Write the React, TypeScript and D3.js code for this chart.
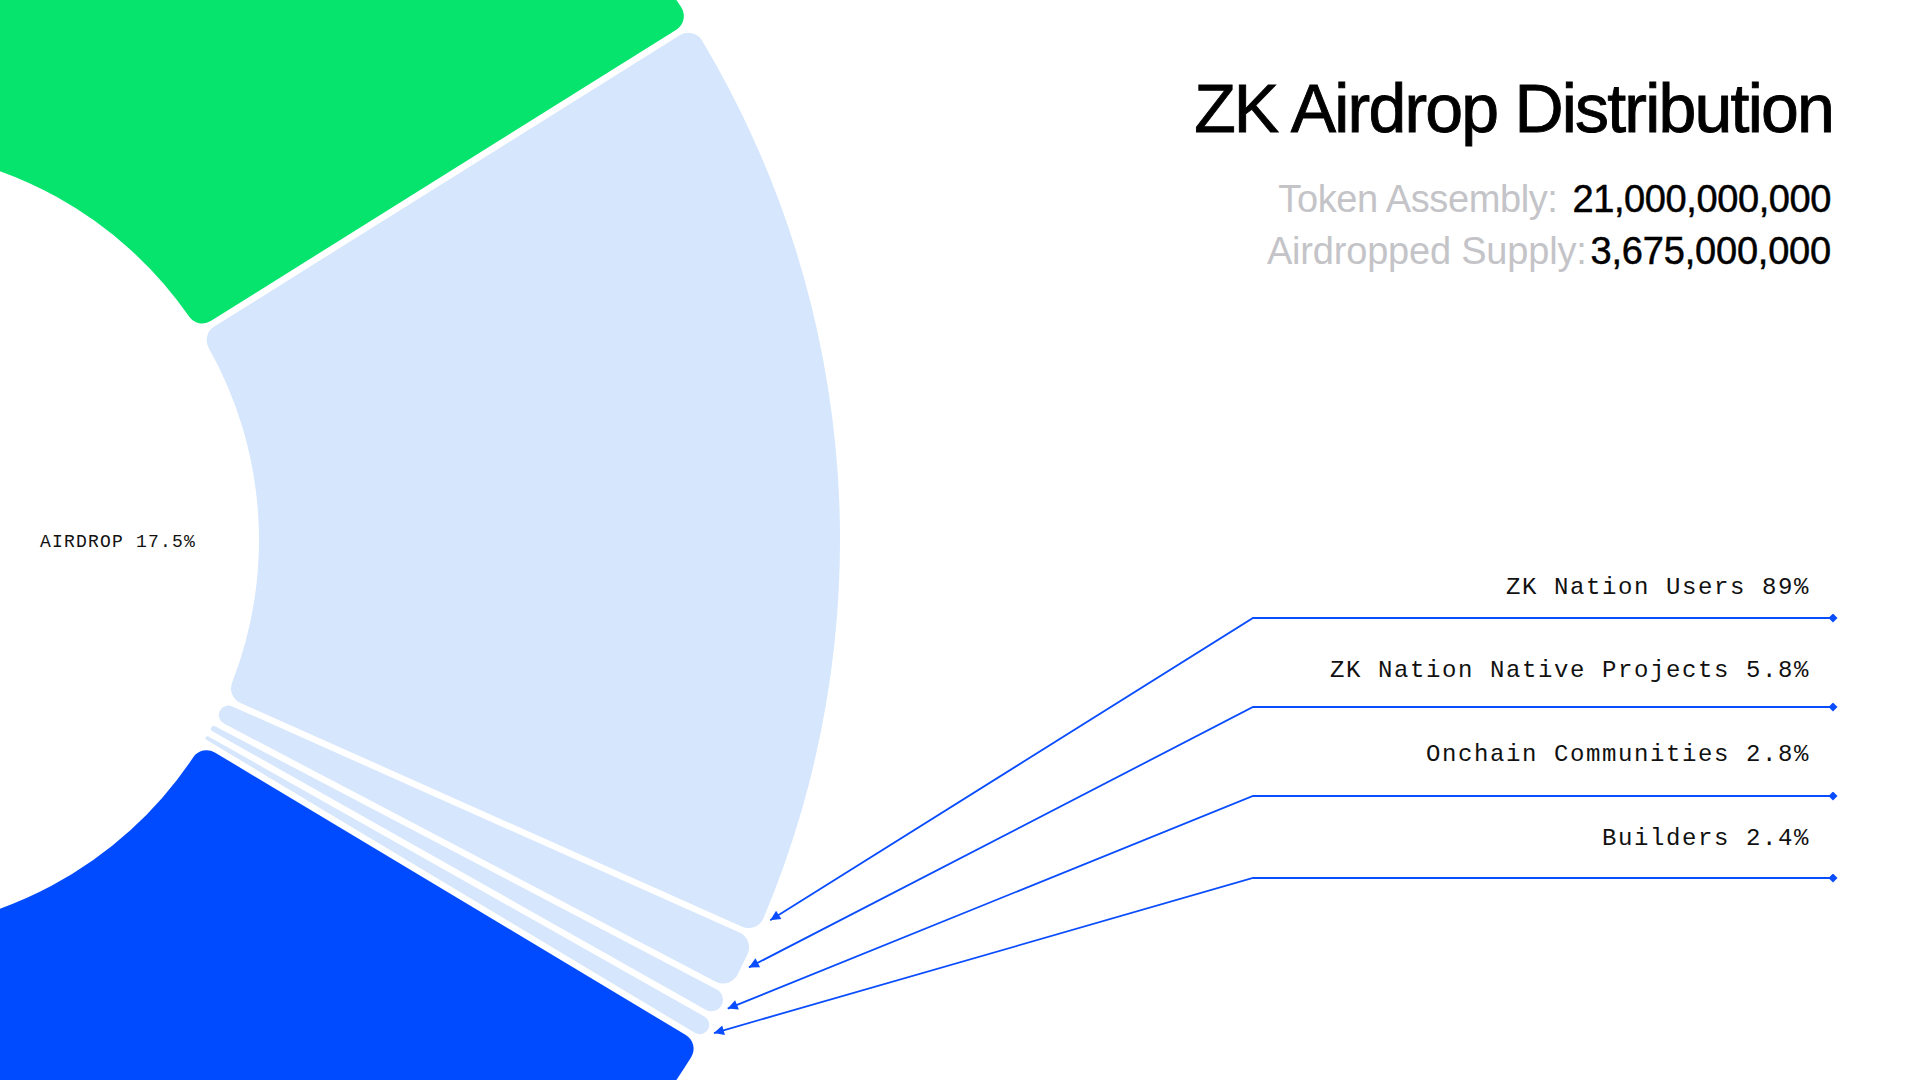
import * as d3 from 'd3';

// Whole token ring (only the airdrop part is really on screen)
const ringNames = ['Matter Labs', 'Airdrop', 'Investors', 'Ecosystem Initiatives', 'ZKsync Association'];
const ringShares = [16.1, 17.5, 17.2, 29.3, 19.9];
const ringColors = ['#06e46e', '#d5e6fd', '#004bff', '#b9f3d3', '#9db9ff'];

// Airdrop split
const airdropGroups = ['ZK Nation Users', 'ZK Nation Native Projects', 'Onchain Communities', 'Builders'];
const airdropPcts = [89, 5.8, 2.8, 2.4];

const tokenAssembly = 21000000000;
const airdroppedSupply = 3675000000;

interface Segment {
  name: string;
  value: number;
  color: string;
  pct?: number;
}

const W = 1920;
const H = 1080;
const cx = -133;
const cy = 540;
const innerR = 392;
const outerR = 973;

const lineColor = '#0a4dff';
const labelRight = 1810;
const lineX0 = 1253;
const lineX1 = 1833;
const labelY = [594, 677, 761, 845];
const lineY = [618, 707, 796, 878];

export default function App() {
  const airdropShare = ringShares[ringNames.indexOf('Airdrop')];

  const segments: Segment[] = [];
  ringNames.forEach((name, i) => {
    if (name === 'Airdrop') {
      airdropGroups.forEach((g, j) => {
        segments.push({ name: g, value: airdropShare * airdropPcts[j] / 100, color: ringColors[i], pct: airdropPcts[j] });
      });
    } else {
      segments.push({ name, value: ringShares[i], color: ringColors[i] });
    }
  });

  const arcs = d3.pie<Segment>().value(d => d.value).sort(null)(segments);

  const arc = d3.arc<d3.PieArcDatum<Segment>>()
    .innerRadius(innerR)
    .outerRadius(outerR)
    .cornerRadius(16)
    .padAngle(0.065)
    .padRadius(100);

  const subArcs = arcs.filter(a => a.data.pct !== undefined);
  const fmt = d3.format(',');

  const tipR = outerR + 7;
  const leaders = subArcs.map((a, i) => {
    const span = a.endAngle - a.startAngle;
    const ang = span > 0.2 ? a.endAngle - 0.021 : (a.startAngle + a.endAngle) / 2;
    const tx = cx + tipR * Math.sin(ang);
    const ty = cy - tipR * Math.cos(ang);
    const path = d3.path();
    path.moveTo(lineX1, lineY[i]);
    path.lineTo(lineX0, lineY[i]);
    path.lineTo(tx, ty);
    return { d: path.toString(), label: `${a.data.name} ${a.data.pct}%`, y: labelY[i] };
  });

  return (
    <svg width={W} height={H} style={{ position: 'absolute', left: 0, top: 0, background: '#fff' }}>
      <defs>
        <marker id="arrow" viewBox="0 0 10 10" refX="10" refY="5" markerWidth="12" markerHeight="10"
          markerUnits="userSpaceOnUse" orient="auto">
          <path d="M0,0 L10,5 L0,10 Z" fill={lineColor} />
        </marker>
        <marker id="diamond" viewBox="0 0 10 10" refX="5" refY="5" markerWidth="9" markerHeight="9"
          markerUnits="userSpaceOnUse" orient="auto">
          <path d="M5,0 L10,5 L5,10 L0,5 Z" fill={lineColor} />
        </marker>
      </defs>

      <g transform={`translate(${cx},${cy})`}>
        {arcs.map((a, i) => (
          <path key={i} d={arc(a) || ''} fill={a.data.color} />
        ))}
      </g>

      <text x={40} y={547} fontFamily="'Liberation Mono', monospace" fontSize={18} letterSpacing={1.2} fill="#111">
        AIRDROP {airdropShare}%
      </text>

      {/* Title block */}
      <text x={1833} y={132} textAnchor="end" fontFamily="'Liberation Sans', Arial, sans-serif"
        fontSize={68} letterSpacing={-1.8} fill="#000" stroke="#000" strokeWidth={0.9}>
        ZK Airdrop Distribution
      </text>
      <text x={1831} y={212} textAnchor="end" fontFamily="'Liberation Sans', Arial, sans-serif"
        fontSize={38} letterSpacing={-0.4}>
        <tspan fill="#c4c4c8">Token Assembly:</tspan>
        <tspan fill="#000" stroke="#000" strokeWidth={0.5} dx={15}>{fmt(tokenAssembly)}</tspan>
      </text>
      <text x={1831} y={264} textAnchor="end" fontFamily="'Liberation Sans', Arial, sans-serif"
        fontSize={38} letterSpacing={-0.2}>
        <tspan fill="#c4c4c8">Airdropped Supply:</tspan>
        <tspan fill="#000" stroke="#000" strokeWidth={0.5} dx={4}>{fmt(airdroppedSupply)}</tspan>
      </text>

      {/* Leader lines */}
      {leaders.map((l, i) => (
        <g key={i}>
          <path d={l.d} fill="none" stroke={lineColor} strokeWidth={1.8}
            markerStart="url(#diamond)" markerEnd="url(#arrow)" />
          <text x={labelRight} y={l.y} textAnchor="end" fontFamily="'Liberation Mono', monospace"
            fontSize={24} letterSpacing={1.6} fill="#111">
            {l.label}
          </text>
        </g>
      ))}
    </svg>
  );
}
